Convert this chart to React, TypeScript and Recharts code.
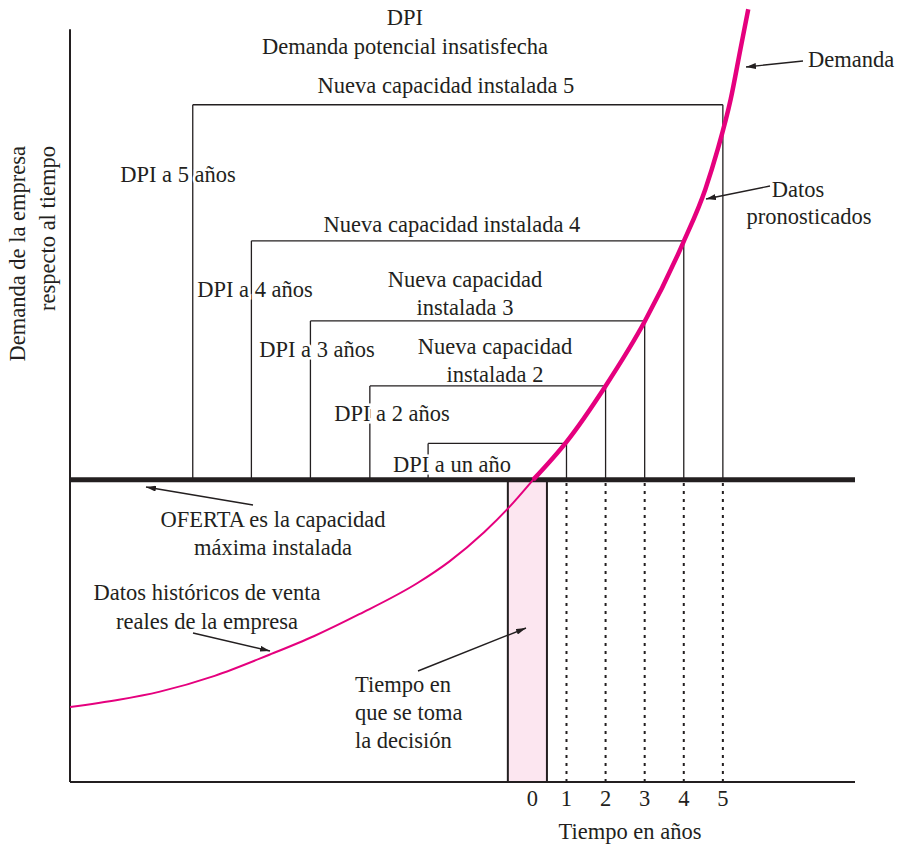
import * as React from 'react';
import { ComposedChart, Line, ReferenceArea, ReferenceLine, XAxis, YAxis } from 'recharts';

// años respecto al momento de decisión (0) y demanda en unidades donde la oferta actual = 100
const histYears = [-11.7, -10.45, -9.4, -8.0, -6.6, -5.45, -4.3, -2.8, -2.0, -1.1, -0.5, 0.15];
const histDemand = [24.8, 27.2, 29.9, 35.1, 42.1, 48.3, 55.5, 65.9, 72.9, 82.7, 90.4, 100];
const foreYears = [0.15, 1, 2, 3, 4, 4.55, 4.87, 5.2, 5.45, 5.65];
const foreDemand = [100, 112.5, 131, 152.3, 178.8, 196, 209.3, 225.8, 242.4, 255.6];

const capacity = 100;
const horizons = [1, 2, 3, 4, 5];
const dpiStart = [-2.54, -4.03, -5.55, -7.06, -8.56];
const dpiTop = [112, 131, 152.5, 179, 224];
const xTicks = [0, 1, 2, 3, 4, 5];

const X_MIN = -11.7;
const X_MAX = 8.38;
const Y_MAX = 256;
const AXIS_TOP = 249;

const INK = '#231f20';
const MAGENTA = '#e5007e';
const FONT = "'Liberation Serif', 'Times New Roman', serif";
const FS = 22.5;

type Row = { t: number; hist?: number; fore?: number };

const rows: Row[] = (() => {
  const map = new Map<number, Row>();
  histYears.forEach((t, i) => map.set(t, { ...(map.get(t) || { t }), hist: histDemand[i] }));
  foreYears.forEach((t, i) => map.set(t, { ...(map.get(t) || { t }), fore: foreDemand[i] }));
  return Array.from(map.values()).sort((a, b) => a.t - b.t);
})();

const YearTick = (props: any) => {
  const { x, y, payload } = props;
  return (
    <text x={x + (payload.value === 0 ? 5 : 0)} y={y} dy="0.71em" textAnchor="middle" fill={INK} fontSize={FS} fontFamily={FONT}>
      {payload.value}
    </text>
  );
};

const halo = { stroke: '#fff', strokeWidth: 5, paintOrder: 'stroke' as const };

function Txt({ x, y, children, anchor = 'middle', cut = false }: { x: number; y: number; children: React.ReactNode; anchor?: string; cut?: boolean }) {
  return (
    <text x={x} y={y} textAnchor={anchor as any} fill={INK} fontSize={FS} fontFamily={FONT} {...(cut ? halo : {})}>
      {children}
    </text>
  );
}

function Arrow({ from, to }: { from: [number, number]; to: [number, number] }) {
  return <line x1={from[0]} y1={from[1]} x2={to[0]} y2={to[1]} stroke={INK} strokeWidth={1.4} markerEnd="url(#head)" />;
}

export default function App() {
  return (
    <div style={{ position: 'absolute', left: 0, top: 0, width: 901, height: 845, background: '#fff' }}>
      <ComposedChart width={901} height={845} data={rows} margin={{ top: 8, right: 46, bottom: 23, left: 70 }}>
        <XAxis
          dataKey="t"
          type="number"
          domain={[X_MIN, X_MAX]}
          ticks={xTicks}
          height={40}
          tickLine={false}
          axisLine={{ stroke: INK, strokeWidth: 2 }}
          tick={<YearTick />}
          allowDataOverflow
        />
        <YAxis type="number" domain={[0, Y_MAX]} hide width={0} allowDataOverflow />

        <ReferenceArea x1={-0.5} x2={0.5} y1={0} y2={capacity} fill="#fce6f0" fillOpacity={1} stroke={INK} strokeWidth={2} />

        {/* eje vertical, empieza un poco por debajo del borde superior */}
        <ReferenceLine segment={[{ x: X_MIN, y: 0 }, { x: X_MIN, y: AXIS_TOP }]} stroke={INK} strokeWidth={2} ifOverflow="visible" />

        {horizons.map((h, i) => (
          <React.Fragment key={h}>
            <ReferenceLine segment={[{ x: dpiStart[i], y: capacity }, { x: dpiStart[i], y: dpiTop[i] }]} stroke={INK} strokeWidth={1.3} />
            <ReferenceLine segment={[{ x: dpiStart[i], y: dpiTop[i] }, { x: h, y: dpiTop[i] }]} stroke={INK} strokeWidth={1.3} />
            <ReferenceLine segment={[{ x: h, y: dpiTop[i] }, { x: h, y: capacity }]} stroke={INK} strokeWidth={1.3} />
            <ReferenceLine segment={[{ x: h, y: 0 }, { x: h, y: capacity }]} stroke={INK} strokeWidth={2} strokeDasharray="3 5" />
          </React.Fragment>
        ))}

        <ReferenceLine y={capacity} stroke={INK} strokeWidth={5} />

        <Line dataKey="hist" type="monotone" stroke={MAGENTA} strokeWidth={2} dot={false} activeDot={false} isAnimationActive={false} connectNulls={false} />
        <Line dataKey="fore" type="monotone" stroke={MAGENTA} strokeWidth={4.5} dot={false} activeDot={false} isAnimationActive={false} connectNulls={false} />
      </ComposedChart>

      <svg width={901} height={845} style={{ position: 'absolute', left: 0, top: 0, pointerEvents: 'none' }}>
        <defs>
          <marker id="head" viewBox="0 0 10 6" refX="10" refY="3" markerWidth="10" markerHeight="6" markerUnits="userSpaceOnUse" orient="auto">
            <path d="M0,0 L10,3 L0,6 z" fill={INK} />
          </marker>
        </defs>

        <Txt x={405} y={25}>DPI</Txt>
        <Txt x={405} y={54}>Demanda potencial insatisfecha</Txt>
        <Txt x={446} y={93}>Nueva capacidad instalada 5</Txt>
        <Txt x={452} y={232}>Nueva capacidad instalada 4</Txt>
        <Txt x={465} y={287}>Nueva capacidad</Txt>
        <Txt x={465} y={315}>instalada 3</Txt>
        <Txt x={495} y={354}>Nueva capacidad</Txt>
        <Txt x={495} y={382}>instalada 2</Txt>

        <Txt x={178} y={182} cut>DPI a 5 años</Txt>
        <Txt x={255} y={297} cut>DPI a 4 años</Txt>
        <Txt x={317} y={357} cut>DPI a 3 años</Txt>
        <Txt x={392} y={421} cut>DPI a 2 años</Txt>
        <Txt x={452} y={472} cut>DPI a un año</Txt>

        <Txt x={808} y={67} anchor="start">Demanda</Txt>
        <Txt x={798} y={197}>Datos</Txt>
        <Txt x={809} y={224}>pronosticados</Txt>

        <Txt x={273} y={527}>OFERTA es la capacidad</Txt>
        <Txt x={273} y={555}>máxima instalada</Txt>
        <Txt x={207} y={600}>Datos históricos de venta</Txt>
        <Txt x={207} y={629}>reales de la empresa</Txt>
        <Txt x={355} y={692} anchor="start">Tiempo en</Txt>
        <Txt x={355} y={720} anchor="start">que se toma</Txt>
        <Txt x={355} y={748} anchor="start">la decisión</Txt>

        <Txt x={630} y={839}>Tiempo en años</Txt>

        <text transform="translate(25,146) rotate(-90)" textAnchor="end" fill={INK} fontSize={FS} fontFamily={FONT}>
          Demanda de la empresa
        </text>
        <text transform="translate(55,146) rotate(-90)" textAnchor="end" fill={INK} fontSize={FS} fontFamily={FONT}>
          respecto al tiempo
        </text>

        <Arrow from={[803, 61]} to={[746, 67]} />
        <Arrow from={[770, 186]} to={[706, 199]} />
        <Arrow from={[253, 505]} to={[146, 487]} />
        <Arrow from={[193, 633]} to={[270, 651]} />
        <Arrow from={[418, 671]} to={[526, 628]} />
      </svg>
    </div>
  );
}
